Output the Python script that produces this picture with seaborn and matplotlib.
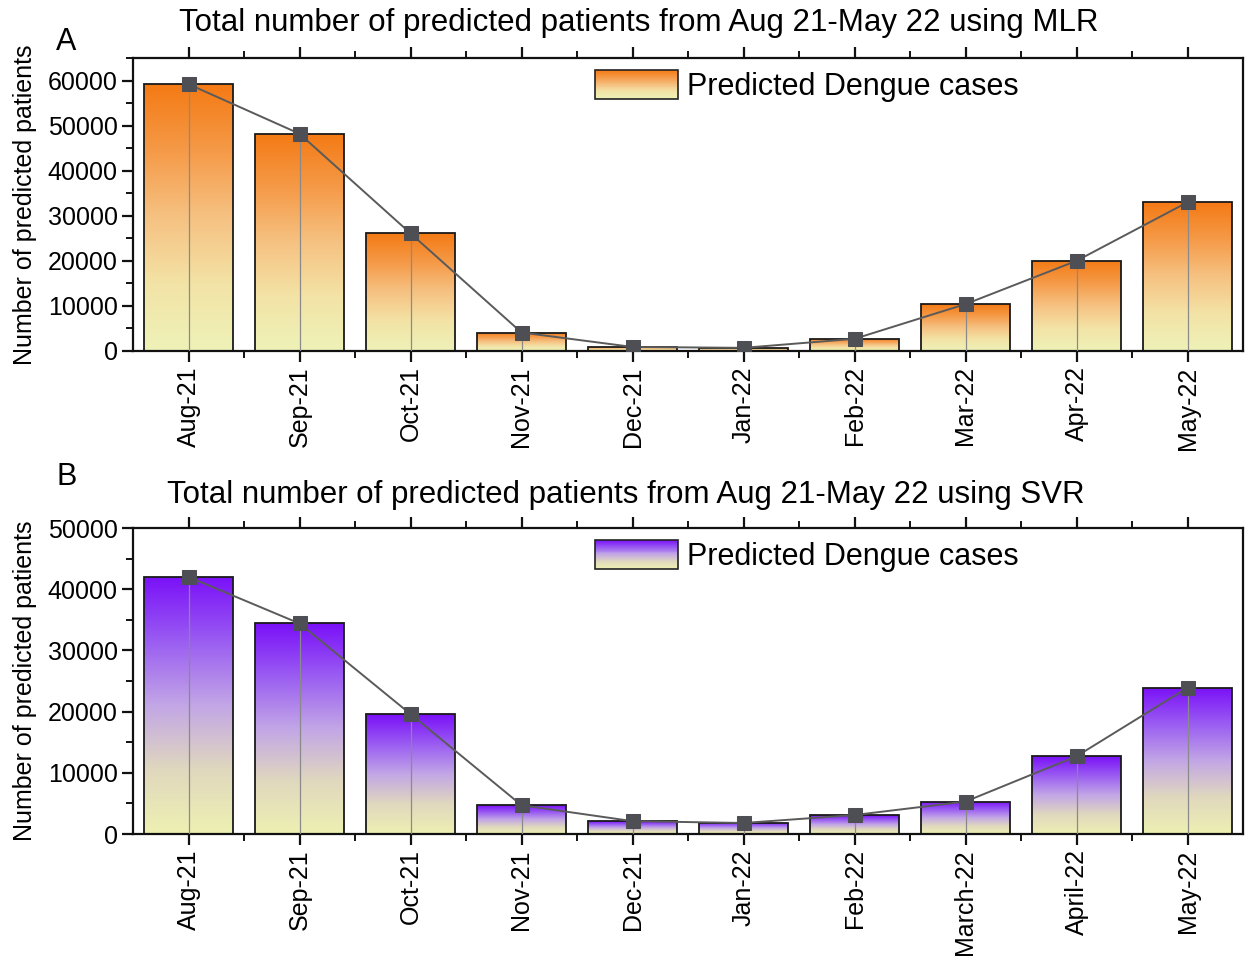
import numpy as np
import matplotlib
matplotlib.use("Agg")
import matplotlib.pyplot as plt
import seaborn as sns
from matplotlib.colors import LinearSegmentedColormap
from matplotlib.patches import Rectangle
from matplotlib.legend_handler import HandlerBase
from matplotlib.ticker import MultipleLocator

# ---------------- data ----------------
months_a = ["Aug-21", "Sep-21", "Oct-21", "Nov-21", "Dec-21", "Jan-22",
            "Feb-22", "Mar-22", "Apr-22", "May-22"]
mlr_cases = [59200, 48200, 26100, 4100, 900, 700, 2700, 10400, 20000, 33000]

months_b = ["Aug-21", "Sep-21", "Oct-21", "Nov-21", "Dec-21", "Jan-22",
            "Feb-22", "March-22", "April-22", "May-22"]
svr_cases = [42000, 34400, 19600, 4700, 2100, 1800, 3100, 5300, 12700, 23900]

title_a = "Total number of predicted patients from Aug 21-May 22 using MLR"
title_b = "Total number of predicted patients from Aug 21-May 22 using SVR"
legend_label = "Predicted Dengue cases"
ylabel = "Number of predicted patients"

sns.set_theme(style="white")
plt.rcParams["font.family"] = ["Liberation Sans", "DejaVu Sans"]
plt.rcParams["text.color"] = "black"
plt.rcParams["axes.labelcolor"] = "black"
plt.rcParams["xtick.color"] = "black"
plt.rcParams["ytick.color"] = "black"

cmap_orange = LinearSegmentedColormap.from_list(
    "org", ["#EEF2B8", "#F3E3A6", "#F6C282", "#F59A48", "#F47A14"])
cmap_purple = LinearSegmentedColormap.from_list(
    "pur", ["#EEF0B2", "#E0D8BE", "#C2A6E6", "#9A5CF2", "#7A10F8"])


class GradientHandler(HandlerBase):
    def __init__(self, cmap, **kw):
        super().__init__(**kw)
        self.cmap = cmap

    def create_artists(self, legend, orig_handle, xdescent, ydescent,
                       width, height, fontsize, trans):
        n = 30
        arts = []
        for i in range(n):
            r = Rectangle((-xdescent, -ydescent + height * i / n), width, height / n + 0.3,
                          facecolor=self.cmap((i + 0.5) / n), edgecolor="none",
                          transform=trans)
            arts.append(r)
        arts.append(Rectangle((-xdescent, -ydescent), width, height, facecolor="none",
                              edgecolor="#222222", lw=1.2, transform=trans))
        return arts


def draw_panel(ax, months, values, cmap, ymax, title, letter, title_x, title_y, letter_y):
    x = np.arange(len(months))
    sns.barplot(x=months, y=values, ax=ax, color="white", edgecolor="#1a1a1a",
                linewidth=1.3, width=0.8, saturation=1, zorder=2)
    grad = np.linspace(0, 1, 256).reshape(-1, 1)
    for p in ax.patches:
        p.set_facecolor("none")
        x0, y0 = p.get_x(), p.get_y()
        w, h = p.get_width(), p.get_height()
        im = ax.imshow(grad, cmap=cmap, origin="lower", aspect="auto",
                       extent=[x0, x0 + w, y0, y0 + h], zorder=1,
                       interpolation="bilinear")
        im.set_clip_path(p)
    ax.vlines(x, 0, values, color="#8a8a8a", lw=0.9, zorder=3)
    sns.lineplot(x=x, y=values, ax=ax, color="#5a5a5a", lw=1.4, marker="s",
                 markersize=10, markerfacecolor="#4d4f55", markeredgecolor="#4d4f55",
                 zorder=4)
    ax.set_xlim(-0.5, len(months) - 0.5)
    ax.set_ylim(0, ymax)
    ax.set_xticks(x)
    ax.set_xticklabels(months, rotation=90, fontsize=18)
    ax.set_xticks(x[:-1] + 0.5, minor=True)
    ax.yaxis.set_major_locator(MultipleLocator(10000))
    ax.yaxis.set_minor_locator(MultipleLocator(5000))
    ax.tick_params(axis="y", labelsize=18)
    ax.tick_params(axis="both", which="major", direction="out", length=8, width=1.6,
                   color="#111111", bottom=True, left=True, top=True, right=False,
                   labeltop=False, pad=3)
    ax.tick_params(axis="both", which="minor", direction="out", length=5, width=1.4,
                   color="#111111", bottom=True, left=True, top=True, right=False)
    ax.set_ylabel(ylabel, fontsize=18, labelpad=8)
    ax.set_xlabel("")
    for s in ax.spines.values():
        s.set_visible(True)
        s.set_color("#111111")
        s.set_linewidth(1.6)
    ax.grid(False)
    handle = Rectangle((0, 0), 1, 1)
    ax.legend([handle], [legend_label], handler_map={Rectangle: GradientHandler(cmap)},
              loc="upper left", bbox_to_anchor=(0.40, 1.02), frameon=False,
              fontsize=22, handlelength=2.7, handleheight=1.05, handletextpad=0.3,
              borderaxespad=0.2)
    fig.text(title_x, title_y, title, ha="center", va="center", fontsize=22.5)
    fig.text(0.045, letter_y, letter, ha="left", va="center", fontsize=22)


fig = plt.figure(figsize=(12.49, 9.6), dpi=100)
ax1 = fig.add_axes([133 / 1249, 1 - 351 / 960, 1110 / 1249, 293 / 960])
ax2 = fig.add_axes([133 / 1249, 1 - 834 / 960, 1110 / 1249, 306 / 960])

draw_panel(ax1, months_a, mlr_cases, cmap_orange, 65000, title_a, "A",
           639 / 1249, 1 - 23 / 960, 1 - 42 / 960)
draw_panel(ax2, months_b, svr_cases, cmap_purple, 50000, title_b, "B",
           626 / 1249, 1 - 495 / 960, 1 - 477 / 960)

fig.savefig("out.png", dpi=100, facecolor="white")
